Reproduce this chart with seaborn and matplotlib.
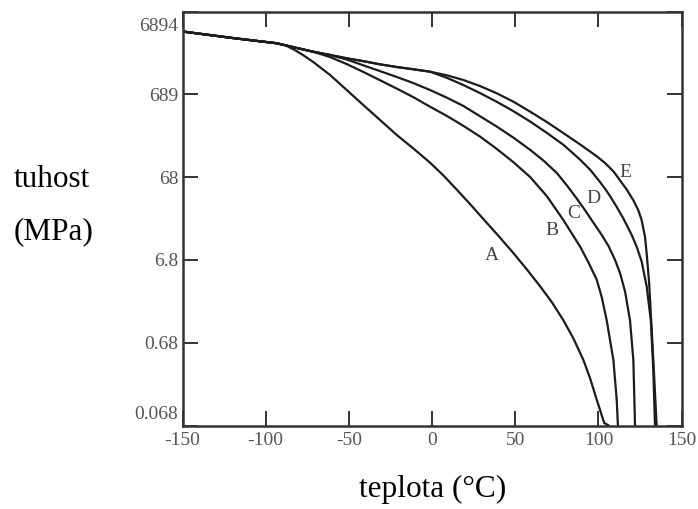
import numpy as np
import pandas as pd
import matplotlib
matplotlib.use("Agg")
import matplotlib.pyplot as plt
import matplotlib.transforms as mtrans
import seaborn as sns
from matplotlib.ticker import NullLocator

# ---- data (temperature in °C, stiffness in MPa) ----
temp_A = [-149, -120, -93.4, -88, -83, -78, -71.4, -61.3, -51.3, -41.3, -31.3, -21.3, -11.2, -1.2,
          6.8, 14.8, 23, 31, 40, 49, 57, 65, 72, 79, 85, 91, 95, 99, 103.5, 106]
stiff_A = [3930, 3300, 2850, 2682, 2390, 2082, 1692, 1179, 777, 511, 338, 223, 152.6, 103,
           72.2, 48.8, 32.3, 21.3, 13.4, 8.29, 5.29, 3.30, 2.13, 1.28, 0.774, 0.425, 0.256, 0.141, 0.0739, 0.0695]

temp_B = [-149, -120, -93.4, -81.4, -71.4, -61.3, -51.3, -41.3, -31.3, -21.3, -11.2, -1.2, 8.8,
          18.8, 28.8, 38.9, 49, 59, 69, 79, 89, 94, 99, 102, 105, 109, 111, 111.7]
stiff_B = [3930, 3300, 2850, 2503, 2251, 1943, 1598, 1284, 1020, 810, 636, 488, 379,
           287, 213, 151, 104, 69, 40.6, 20.8, 9.97, 6.43, 3.97, 2.45, 1.28, 0.425, 0.141, 0.0695]

temp_C = [-149, -120, -93.4, -81.4, -71.4, -61.3, -51.3, -41.3, -31.3, -21.3, -11.2, -1.2, 8.8,
          18.8, 28.8, 38.9, 49, 59, 67, 75, 81, 87, 92, 97, 102, 106, 110, 113, 116, 119, 121, 122]
stiff_C = [3930, 3300, 2850, 2503, 2251, 2058, 1814, 1543, 1314, 1118, 941, 777, 629,
           499, 375, 281, 206, 147, 109, 77.4, 54.8, 37.9, 27.4, 19.4, 13.8, 10.2, 6.89, 4.77, 2.87, 1.28, 0.425, 0.0695]

temp_D = [-149, -120, -93.4, -81.4, -71.4, -61.3, -51.3, -41.3, -31.3, -21.3, -11.2, -1.2, 8.8,
          18.8, 28.8, 38.9, 49, 59, 69, 79, 89, 95, 101, 104, 107, 111, 115, 120, 123, 126, 129, 131.5, 133, 134]
stiff_D = [3930, 3300, 2850, 2503, 2251, 2058, 1877, 1732, 1587, 1474, 1382, 1293, 1093,
           892, 714, 560, 430, 323, 236, 169, 112, 84.8, 60.0, 49.9, 40.6, 30.1, 21.8, 13.8, 9.97, 6.58, 3.30, 1.28, 0.322, 0.0695]

temp_E = [-149, -120, -93.4, -81.4, -71.4, -61.3, -51.3, -41.3, -31.3, -21.3, -11.2, -1.2, 8.8,
          18.8, 28.8, 38.9, 49, 59, 69, 79, 89, 99, 104, 109, 113, 117, 121, 124, 126, 128, 129, 130.5, 132.8, 135]
stiff_E = [3930, 3300, 2850, 2503, 2251, 2058, 1877, 1732, 1587, 1474, 1382, 1293, 1171,
           1027, 868, 709, 560, 425, 319, 234, 171, 123, 102, 81.0, 62.9, 48.8, 36.2, 27.4, 20.8, 13.1, 8.29, 3.62, 0.511, 0.0695]

curve_names = ["A", "B", "C", "D", "E"]
label_x = [36, 72, 85, 97, 116]
label_y = [7.9, 15.8, 25.4, 38.5, 79]

x_ticks = [-150, -100, -50, 0, 50, 100, 150]
x_ticklabels = ["-150", "-100", "-50", "0", "50", "100", "150"]
y_ticks = [6894, 689.4, 68.94, 6.894, 0.6894, 0.06894]
y_ticklabels = ["6894", "689", "68", "6.8", "0.68", "0.068"]

# ---- build long table ----
frames = []
for name, t, s in zip(curve_names,
                      [temp_A, temp_B, temp_C, temp_D, temp_E],
                      [stiff_A, stiff_B, stiff_C, stiff_D, stiff_E]):
    frames.append(pd.DataFrame({"teplota": t, "tuhost": s, "curve": name}))
df = pd.concat(frames, ignore_index=True)

sns.set_style("ticks")
plt.rcParams["font.family"] = ["Liberation Serif", "DejaVu Serif"]

fig = plt.figure(figsize=(6.98, 5.09), dpi=100)
ax = fig.add_axes([0.2615, 0.164, 0.715, 0.8134])

sns.lineplot(data=df, x="teplota", y="tuhost", hue="curve",
             palette=["#1c1c1c"] * 5, legend=False, sort=False,
             estimator=None, linewidth=1.6, ax=ax)

ax.set_yscale("log")
ax.set_xlim(-150, 150)
ax.set_ylim(0.06894, 6894)
ax.set_xticks(x_ticks)
ax.set_xticklabels(x_ticklabels)
ax.set_yticks(y_ticks)
ax.set_yticklabels(y_ticklabels)
ax.yaxis.set_minor_locator(NullLocator())
ax.xaxis.set_minor_locator(NullLocator())
ax.set_xlabel("")
ax.set_ylabel("")

ax.tick_params(direction="in", length=11, width=1.4, top=True, right=True,
               color="#333333", labelsize=14, labelcolor="#555555")
ax.tick_params(axis="x", pad=5)
ax.tick_params(axis="y", pad=3)
ylabels = ax.get_yticklabels()
ylabels[0].set_verticalalignment("top")
ylabels[0].set_transform(ylabels[0].get_transform() +
                         mtrans.ScaledTranslation(0, -5 / 72, fig.dpi_scale_trans))
ylabels[-1].set_verticalalignment("bottom")
ylabels[-1].set_transform(ylabels[-1].get_transform() +
                          mtrans.ScaledTranslation(0, 2 / 72, fig.dpi_scale_trans))

for sp in ax.spines.values():
    sp.set_linewidth(1.8)
    sp.set_color("#333333")

for name, lx, ly in zip(curve_names, label_x, label_y):
    ax.text(lx, ly, name, fontsize=14, color="#444444", ha="center", va="center")

fig.text(14 / 698, 1 - 187 / 509, "tuhost", fontsize=22.5, ha="left", va="baseline", color="black")
fig.text(14 / 698, 1 - 232 / 509, "(MPa)", fontsize=22.5, ha="left", va="center", color="black")
fig.text(433 / 698, 1 - 497 / 509, "teplota (°C)", fontsize=22.5, ha="center", va="baseline", color="black")

fig.savefig("out.png", dpi=100)
